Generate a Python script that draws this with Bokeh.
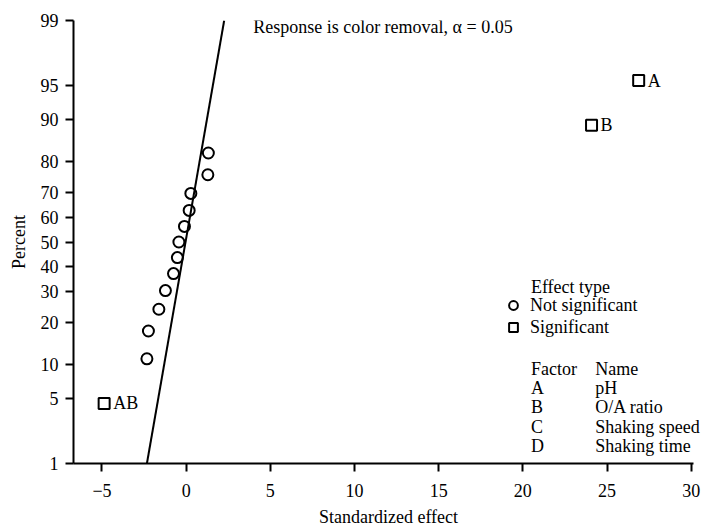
from statistics import NormalDist
from bokeh.plotting import figure
from bokeh.models import (Range1d, FixedTicker, CustomJSTickFormatter, Label,
                          Legend, LegendItem, ColumnDataSource)
from bokeh.core.properties import value
from bokeh.embed import file_html
from bokeh.resources import INLINE

# ---------------- data ----------------
ns_effect = [-2.33, -2.24, -1.62, -1.23, -0.75, -0.52, -0.43, -0.10, 0.18, 0.28, 1.29, 1.32]
ns_percent = [11.0, 17.5, 24.0, 30.5, 37.0, 43.5, 50.0, 56.5, 63.0, 69.5, 76.0, 82.5]
sig_names = ["AB", "B", "A"]
sig_effect = [-4.87, 24.08, 26.88]
sig_percent = [4.5, 89.0, 95.5]
fit_effect = [-2.33, 2.26]
fit_percent = [1, 99]
x_ticks = [-5, 0, 5, 10, 15, 20, 25, 30]
y_tick_percent = [1, 5, 10, 20, 30, 40, 50, 60, 70, 80, 90, 95, 99]
factor_codes = ["A", "B", "C", "D"]
factor_names = ["pH", "O/A ratio", "Shaking speed", "Shaking time"]

ND = NormalDist()


def probit(pcts):
    return [ND.inv_cdf(v / 100.0) for v in pcts]


FONT = "Liberation Serif"
FS = "18px"

X_START, X_AXIS_END, X_FRAME_END = -6.69, 30.14, 30.73

p = figure(width=703, height=529, output_backend="svg", toolbar_location=None,
           x_range=Range1d(X_START, X_FRAME_END),
           y_range=Range1d(ND.inv_cdf(0.01), ND.inv_cdf(0.99)),
           min_border_left=73, min_border_right=0, min_border_top=20, min_border_bottom=65)
p.outline_line_color = None
p.xgrid.visible = False
p.ygrid.visible = False
p.background_fill_color = "white"
p.border_fill_color = "white"

for ax in (p.xaxis[0], p.yaxis[0]):
    ax.axis_line_width = 2
    ax.axis_line_color = "black"
    ax.major_tick_line_width = 2
    ax.major_tick_line_color = "black"
    ax.major_tick_out = 8
    ax.major_tick_in = 0
    ax.minor_tick_line_color = None
    ax.major_label_text_font = FONT
    ax.major_label_text_font_size = FS
    ax.major_label_text_color = "black"
    ax.axis_label_text_font = FONT
    ax.axis_label_text_font_size = FS
    ax.axis_label_text_font_style = "normal"
    ax.axis_label_text_color = "black"

p.xaxis.ticker = FixedTicker(ticks=x_ticks)
p.xaxis.bounds = (X_START, X_AXIS_END)
p.xaxis.axis_label = "Standardized effect"
p.xaxis.major_label_standoff = 12
p.xaxis.axis_label_standoff = 7

yz = probit(y_tick_percent)
p.yaxis.ticker = FixedTicker(ticks=yz)
p.yaxis.formatter = CustomJSTickFormatter(
    args=dict(zs=yz, labels=[str(v) for v in y_tick_percent]),
    code="""
for (let i = 0; i < zs.length; i++) {
  if (Math.abs(tick - zs[i]) < 1e-6) return labels[i];
}
return "";
""")
p.yaxis.axis_label = "Percent"
p.yaxis.major_label_standoff = 7
p.yaxis.axis_label_standoff = 9

# fitted line
p.line(x=fit_effect, y=probit(fit_percent), line_color="black", line_width=2)

# non-significant effects
ns_src = ColumnDataSource(dict(x=ns_effect, y=probit(ns_percent)))
r_ns = p.scatter("x", "y", source=ns_src, marker="circle", size=11,
                 fill_color=None, line_color="black", line_width=2)

# significant effects
sig_src = ColumnDataSource(dict(x=sig_effect, y=probit(sig_percent), name=sig_names))
r_sig = p.scatter("x", "y", source=sig_src, marker="square", size=11,
                  fill_color=None, line_color="black", line_width=2)
p.text("x", "y", text="name", source=sig_src, x_offset=9,
       text_font=value(FONT), text_font_size=FS, text_color="black",
       text_align="left", text_baseline="middle")

# header text
p.add_layout(Label(x=3.98, y=2.253, text="Response is color removal, \u03b1 = 0.05",
                   text_font=FONT, text_font_size=FS, text_color="black",
                   text_align="left", text_baseline="middle"))

# legend for effect type
legend = Legend(items=[LegendItem(label="Not significant", renderers=[r_ns]),
                       LegendItem(label="Significant", renderers=[r_sig])],
                location=(427, 125), glyph_width=26, glyph_height=22,
                label_standoff=4, spacing=0, padding=0, margin=0,
                label_height=22,
                border_line_color=None, background_fill_alpha=0,
                label_text_font=FONT, label_text_font_size=FS,
                label_text_color="black")
p.add_layout(legend)

p.add_layout(Label(x=20.48, y=-0.471, text="Effect type",
                   text_font=FONT, text_font_size=FS, text_color="black",
                   text_align="left", text_baseline="middle"))

# factor table
row_top = -1.330
row_step = 0.204
p.add_layout(Label(x=20.48, y=row_top, text="Factor", text_font=FONT, text_font_size=FS,
                   text_color="black", text_align="left", text_baseline="middle"))
p.add_layout(Label(x=24.30, y=row_top, text="Name", text_font=FONT, text_font_size=FS,
                   text_color="black", text_align="left", text_baseline="middle"))
for i, (c, n) in enumerate(zip(factor_codes, factor_names)):
    yy = row_top - (i + 1) * row_step
    p.add_layout(Label(x=20.48, y=yy, text=c, text_font=FONT, text_font_size=FS,
                       text_color="black", text_align="left", text_baseline="middle"))
    p.add_layout(Label(x=24.30, y=yy, text=n, text_font=FONT, text_font_size=FS,
                       text_color="black", text_align="left", text_baseline="middle"))

open("out.html", "w").write(file_html(p, INLINE))
